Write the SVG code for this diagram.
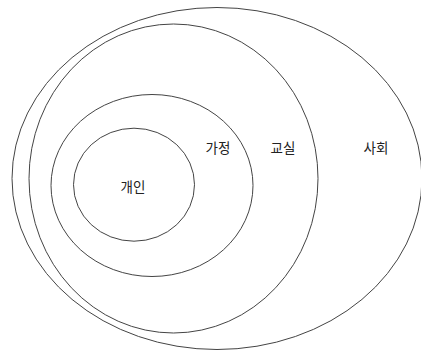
<svg xmlns="http://www.w3.org/2000/svg" width="421" height="353" viewBox="0 0 421 353">
<style>
.e{fill:none;stroke:#444;stroke-width:1}
.t{font-family:"Noto Sans CJK KR","Noto Sans",sans-serif;font-size:13.5px;fill:#222;text-anchor:middle;dominant-baseline:central}
</style>
<rect width="421" height="353" fill="#fff"/>
<g id="society"><ellipse class="e" cx="217" cy="178.5" rx="205" ry="171"/><text class="t" x="376" y="147">사회</text></g>
<g id="classroom"><ellipse class="e" cx="173.5" cy="178.5" rx="144.5" ry="154.5"/><text class="t" x="283" y="147">교실</text></g>
<g id="family"><ellipse class="e" cx="152" cy="185.5" rx="101" ry="91"/><text class="t" x="218" y="147">가정</text></g>
<g id="individual"><ellipse class="e" cx="134" cy="184.7" rx="60.5" ry="56.5"/><text class="t" x="133" y="186">개인</text></g>
<g id="connectors"></g>
</svg>
